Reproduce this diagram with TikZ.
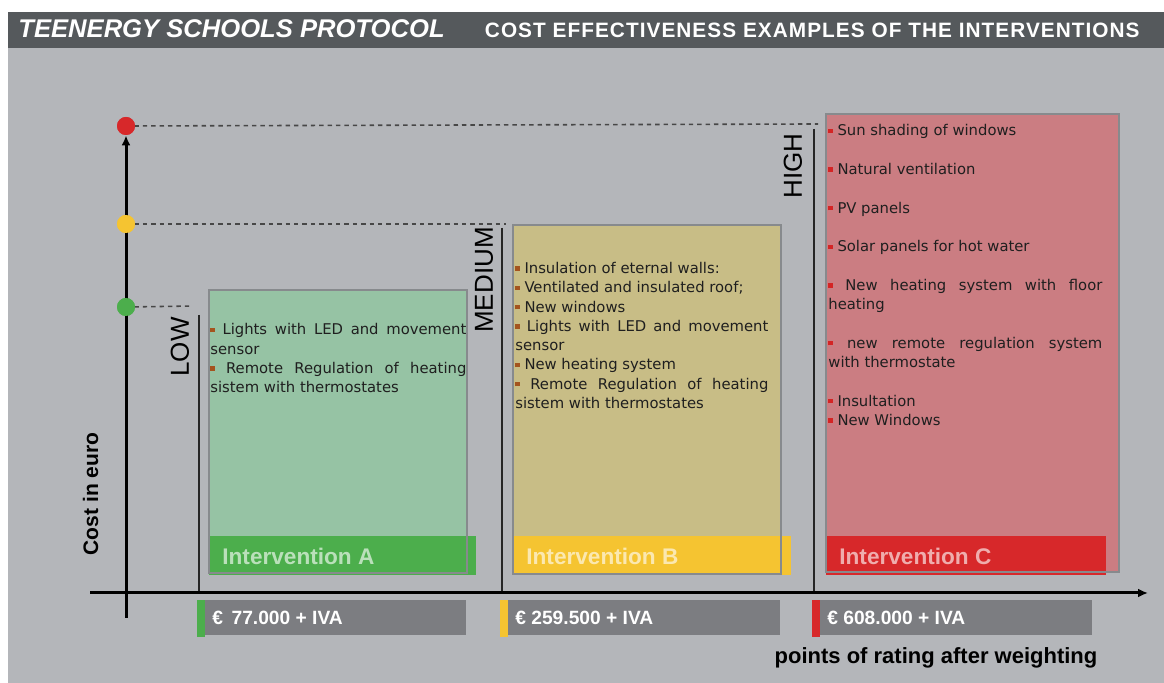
\documentclass[tikz,border=0pt]{standalone}
\usepackage{fontspec}
\setmainfont{Liberation Sans}
\newfontfamily\listfont{DejaVu Sans}
\usetikzlibrary{arrows.meta}
\definecolor{backgr}{HTML}{B4B6BA}
\definecolor{header}{HTML}{55595C}
\definecolor{fillA}{HTML}{96C3A4}
\definecolor{fillB}{HTML}{C8BD86}
\definecolor{fillC}{HTML}{CB7D82}
\definecolor{barA}{HTML}{4CAE4C}
\definecolor{barB}{HTML}{F5C431}
\definecolor{barC}{HTML}{D7282A}
\definecolor{costbar}{HTML}{7C7D81}
\definecolor{frame}{HTML}{878A8D}
\definecolor{bulAB}{HTML}{A4541E}
\definecolor{bulC}{HTML}{D42424}
\tikzstyle{dot}=[circle, inner sep=0pt, minimum size=9pt]
\tikzstyle{guide}=[dashed, dash pattern=on 2.2pt off 2pt, line width=0.8pt, color=black!72]
\tikzstyle{axis}=[line width=1.5pt, -{Latex[length=5pt,width=4.5pt]}]
\tikzstyle{marker}=[line width=0.7pt, color=black!85]
\tikzstyle{rank}=[rotate=90, inner sep=0pt, font=\fontsize{13}{13}\selectfont]
\tikzstyle{items}=[anchor=base west, inner sep=0pt, align=justify, text=black!88, font=\listfont\fontsize{7.4}{9.65}\selectfont]
\tikzstyle{heading}=[inner sep=0pt, text=white, text opacity=0.62, font=\bfseries\fontsize{11.3}{12}\selectfont]
\tikzstyle{price}=[inner sep=0pt, text=white, font=\bfseries\fontsize{9.6}{10}\selectfont]
\newcommand{\itm}[1]{\textcolor{#1}{\rule[1.4pt]{2.2pt}{2.2pt}}\ }

\begin{document}
\begin{tikzpicture}[x=0.5pt, y=-0.5pt]
\useasboundingbox (0,0) rectangle (1164,683);
\fill[white] (0,0) rectangle (1164,683);
\fill[backgr] (8,12) rectangle (1164,683);
\fill[header] (8,12) rectangle (1164,48);
\node[anchor=west, inner sep=0pt, text=white, font=\bfseries\itshape\fontsize{12.8}{13}\selectfont] (ttl) at (18,29) {TEENERGY SCHOOLS PROTOCOL};
\node[anchor=east, inner sep=0pt, text=white, font=\bfseries\addfontfeature{LetterSpace=5}\fontsize{10.4}{11}\selectfont] (subttl) at (1140,30) {COST EFFECTIVENESS EXAMPLES OF THE INTERVENTIONS};

% columns: box, title bar, price bar
\foreach \i/\bl/\br/\bt/\bb/\tr/\sx/\cr/\cost in {A/209/467/290/573/476/197/466/\,77.000, B/513/781/225/574/791/500/780/259.500, C/826/1119/114/572/1106/812/1092/608.000}{
	\fill[fill\i] (\bl,\bt) rectangle (\br,\bb);
	\fill[bar\i] (\bl,536) rectangle (\tr,575);
	\draw[frame, line width=0.75pt] (\bl,\bt) rectangle (\br,\bb);
	\node[heading, anchor=west] (title\i) at (\bl+13,556) {Intervention \i};
	\fill[bar\i] (\sx,600) rectangle (\sx+8,637);
	\fill[costbar] (\sx+8,600) rectangle (\cr,635);
	\node[price, anchor=west] (cost\i) at (\sx+15,618) {€ \cost{} + IVA};
}

\node[items, text width=128pt] (listA) at (210,335) {\itm{bulAB}Lights with LED and movement\linebreak sensor\\
\itm{bulAB}Remote Regulation of heating\linebreak sistem with thermostates};
\node[items, text width=126.5pt] (listB) at (515,273.5) {\itm{bulAB}Insulation of eternal walls:\\
\itm{bulAB}Ventilated and insulated roof;\\
\itm{bulAB}New windows\\
\itm{bulAB}Lights with LED and movement\linebreak sensor\\
\itm{bulAB}New heating system\\
\itm{bulAB}Remote Regulation of heating\linebreak sistem with thermostates};
\node[items, text width=137pt] (listC) at (828,136) {\itm{bulC}Sun shading of windows\\[9.65pt]
\itm{bulC}Natural ventilation\\[9.65pt]
\itm{bulC}PV panels\\[9.65pt]
\itm{bulC}Solar panels for hot water\\[9.65pt]
\itm{bulC}New heating system with floor\linebreak heating\\[9.65pt]
\itm{bulC}new remote regulation system\linebreak with thermostate\\[9.65pt]
\itm{bulC}Insultation\\
\itm{bulC}New Windows};

% rank markers
\coordinate (lowTop) at (199,315);
\coordinate (lowFoot) at (199,593);
\coordinate (medTop) at (502,228);
\coordinate (medFoot) at (502,593);
\coordinate (highTop) at (814,129);
\coordinate (highFoot) at (814,593);
\draw[marker] (lowTop) -- (lowFoot);
\draw[marker] (medTop) -- (medFoot);
\draw[marker] (highTop) -- (highFoot);
\node[rank] (low) at (180,347) {LOW};
\node[rank] (medium) at (484,280) {MEDIUM};
\node[rank] (high) at (793,166) {HIGH};

% axes
\node[dot, fill=barC] (cHigh) at (126,126) {};
\node[dot, fill=barB] (cMed) at (126,224) {};
\node[dot, fill=barA] (cLow) at (126,307) {};
\coordinate (hiEnd) at (818,124);
\coordinate (medEnd) at (506,224);
\coordinate (lowEnd) at (193,306);
\draw[guide] (cHigh.center) -- (hiEnd);
\draw[guide] (cMed.center) -- (medEnd);
\draw[guide] (cLow.center) -- (lowEnd);
\coordinate (yFoot) at (126,618);
\coordinate (xStart) at (90,593);
\coordinate (xEnd) at (1148,593);
\draw[axis] (yFoot) -- (cHigh.south);
\draw[axis] (xStart) -- (xEnd);
\node[dot, fill=barC] at (cHigh) {};
\node[dot, fill=barB] at (cMed) {};
\node[dot, fill=barA] at (cLow) {};
\node[rotate=90, inner sep=0pt, font=\bfseries\fontsize{10.5}{11}\selectfont] (ylabel) at (90.5,494) {Cost in euro};
\node[inner sep=0pt, font=\bfseries\fontsize{11}{12}\selectfont] (xlabel) at (936,658) {points of rating after weighting};
\end{tikzpicture}
\end{document}
